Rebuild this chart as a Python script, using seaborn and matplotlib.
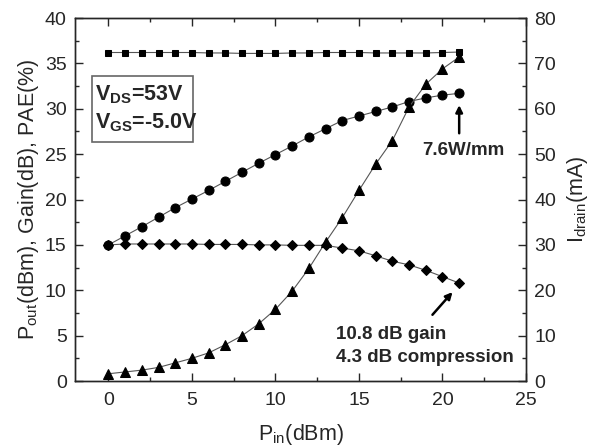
import matplotlib
matplotlib.use("Agg")
from matplotlib import pyplot as plt
from matplotlib.ticker import MultipleLocator
from matplotlib.patches import Rectangle
import seaborn as sns
import pandas as pd

pin = list(range(0, 22))
pout = [15.0, 16.0, 17.0, 18.05, 19.1, 20.05, 21.0, 22.0, 23.0, 24.0, 24.95, 25.9,
        26.9, 27.8, 28.7, 29.2, 29.7, 30.2, 30.8, 31.2, 31.5, 31.7]
gain = [15.0, 15.1, 15.1, 15.1, 15.1, 15.1, 15.05, 15.05, 15.05, 15.0, 15.0, 14.95,
        14.95, 14.95, 14.65, 14.35, 13.8, 13.2, 12.8, 12.2, 11.5, 10.8]
pae = [0.8, 1.0, 1.2, 1.5, 2.0, 2.5, 3.1, 4.0, 5.0, 6.3, 7.9, 9.9,
       12.4, 15.3, 18.0, 21.0, 23.9, 26.5, 30.2, 32.7, 34.4, 35.7]
idrain = [72.4, 72.4, 72.4, 72.4, 72.4, 72.4, 72.3, 72.3, 72.2, 72.2, 72.2, 72.3,
          72.3, 72.4, 72.4, 72.4, 72.3, 72.3, 72.3, 72.3, 72.4, 72.5]

df = pd.DataFrame({"pin": pin, "pout": pout, "gain": gain, "pae": pae, "idrain": idrain})

sns.set_style("ticks")
plt.rcParams["font.family"] = ["Liberation Sans", "DejaVu Sans"]
plt.rcParams["mathtext.fontset"] = "custom"
plt.rcParams["mathtext.rm"] = "Liberation Sans"
plt.rcParams["mathtext.it"] = "Liberation Sans"
plt.rcParams["mathtext.bf"] = "Liberation Sans:bold"

fig = plt.figure(figsize=(5.92, 4.46), dpi=100)
ax = fig.add_axes([0.1267, 0.1457, 0.7618, 0.8139])
ax2 = ax.twinx()

line_kw = dict(color="#555555", lw=0.8, markerfacecolor="black", markeredgecolor="black")
sns.lineplot(data=df, x="pin", y="pout", marker="o", markersize=6.5, ax=ax, **line_kw)
sns.lineplot(data=df, x="pin", y="gain", marker="D", markersize=5.5, ax=ax, **line_kw)
sns.lineplot(data=df, x="pin", y="pae", marker="^", markersize=7, ax=ax, **line_kw)
sns.lineplot(data=df, x="pin", y="idrain", marker="s", markersize=5, ax=ax2, **line_kw)

ax.set_xlim(-2, 25)
ax.set_ylim(0, 40)
ax2.set_ylim(0, 80)
ax.xaxis.set_major_locator(MultipleLocator(5))
ax.xaxis.set_minor_locator(MultipleLocator(2.5))
ax.yaxis.set_major_locator(MultipleLocator(5))
ax.yaxis.set_minor_locator(MultipleLocator(2.5))
ax2.yaxis.set_major_locator(MultipleLocator(10))
ax2.yaxis.set_minor_locator(MultipleLocator(5))

ax.tick_params(which="both", direction="in", top=True, labelsize=14, width=1)
ax.tick_params(which="major", length=6)
ax.tick_params(which="minor", length=3)
ax.tick_params(axis="y", right=False, pad=6)
ax.tick_params(axis="x", pad=8)
ax2.tick_params(which="both", direction="in", labelsize=14, width=1, pad=6)
ax2.tick_params(which="major", length=6)
ax2.tick_params(which="minor", length=3)
for a in (ax, ax2):
    for s in a.spines.values():
        s.set_visible(True)
        s.set_linewidth(1)

ax.set_xlabel(r"P$_{\mathrm{in}}$(dBm)", fontsize=15.5, labelpad=9)
ax.set_ylabel(r"P$_{\mathrm{out}}$(dBm), Gain(dB), PAE(%)", fontsize=15.5, labelpad=3)
ax2.set_ylabel(r"I$_{\mathrm{drain}}$(mA)", fontsize=15.5, labelpad=6)

# bias condition box
ax.add_patch(Rectangle((-0.99, 26.35), 6.07, 7.27, fc="white", ec="#666666", lw=1.2, zorder=3))
ax.text(-0.8, 30.9, r"$\mathbf{V}_{\mathbf{DS}}$=53V", fontsize=15.5, fontweight="bold",
        ha="left", va="baseline", zorder=4)
ax.text(-0.8, 27.8, r"$\mathbf{V}_{\mathbf{GS}}$=-5.0V", fontsize=15.5, fontweight="bold",
        ha="left", va="baseline", zorder=4)

arrow_kw = dict(arrowstyle="-|>", color="black", lw=1.8, shrinkA=0, shrinkB=0, mutation_scale=10)
ax.annotate("", xy=(21, 30.4), xytext=(21, 27.3), arrowprops=arrow_kw)
ax.text(21.25, 24.9, "7.6W/mm", fontsize=13.5, fontweight="bold", ha="center", va="baseline")
ax.annotate("", xy=(20.6, 9.8), xytext=(19.4, 7.3), arrowprops=arrow_kw)
ax.text(13.6, 4.6, "10.8 dB gain", fontsize=13.5, fontweight="bold", ha="left", va="baseline")
ax.text(13.6, 2.1, "4.3 dB compression", fontsize=13.5, fontweight="bold", ha="left", va="baseline")

fig.savefig("out.png", dpi=100)
